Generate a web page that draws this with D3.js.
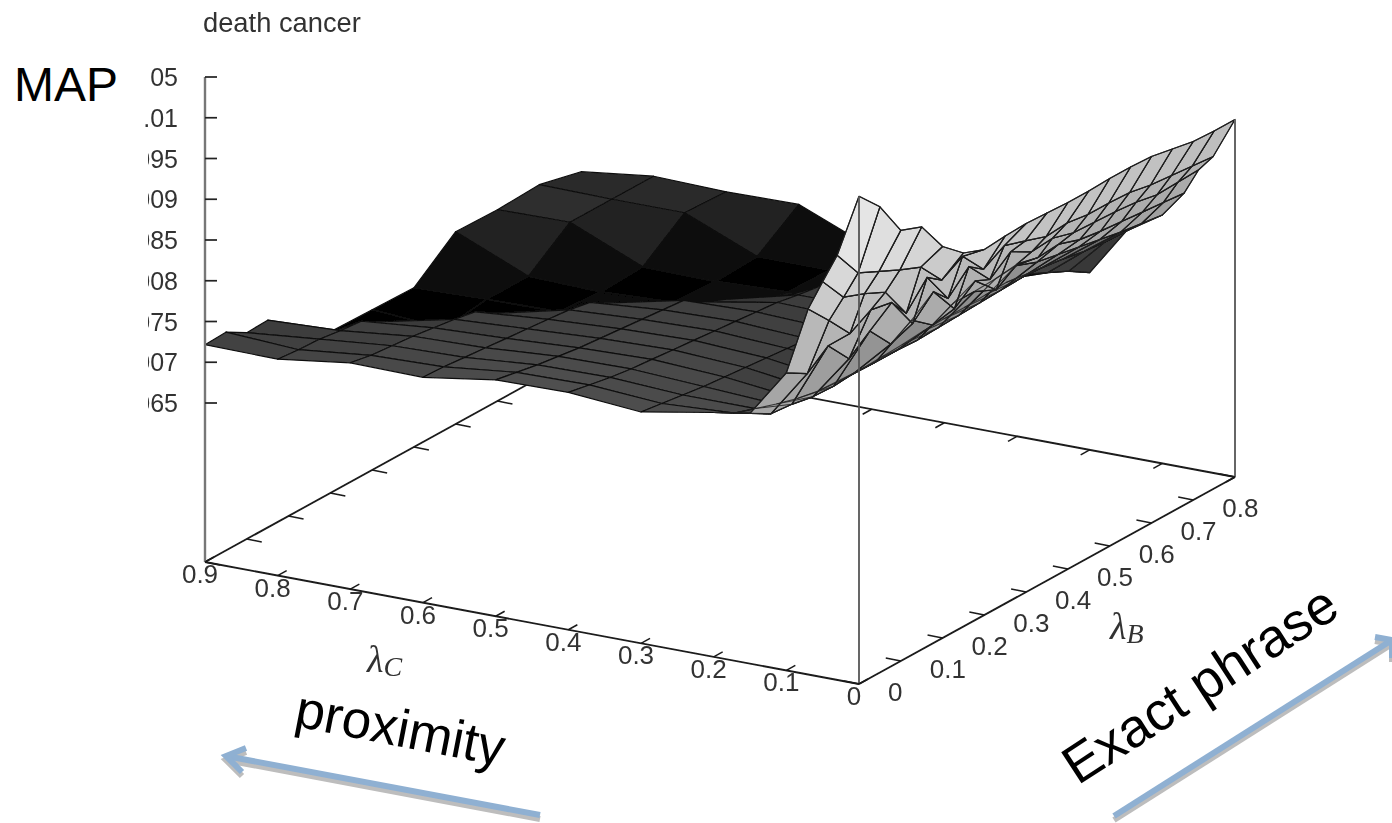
<!DOCTYPE html>
<html>
<head>
<meta charset="utf-8">
<script src="https://cdn.jsdelivr.net/npm/d3@7"></script>
<style>
html, body { margin: 0; padding: 0; background: #fff; }
svg { display: block; font-family: "Liberation Sans", Arial, sans-serif; }
</style>
</head>
<body>
<div id="chart"></div>
<script>
// MAP values are in thousandths
var lambdaC = [0.9, 0.8, 0.7, 0.6, 0.5, 0.4, 0.3, 0.2, 0.15, 0.1, 0.07, 0.05, 0.03, 0]
var lambdaB = [0, 0.05, 0.1, 0.15, 0.2, 0.25, 0.3, 0.35, 0.4, 0.45, 0.5, 0.55, 0.6, 0.65, 0.7, 0.75, 0.8, 0.85, 0.9]

var mapC90 = [7.216, 7.228, 7.081, 7.093, 6.614, 6.552, 6.528, null, 6.516, null, 6.503, null, 6.909, null, 6.896, null, 6.921, null, 6.798]
var mapC80 = [7.204, 7.179, 7.167, 7.130, 7.105, 6.958, 6.540, 6.491, 6.454, null, 6.528, null, 6.528, null, 6.909, null, 6.909, null, 6.909]
var mapC70 = [7.326, 7.277, 7.253, 7.228, 7.191, 7.154, 7.105, 6.946, 6.602, 6.540, 6.540, null, 6.503, null, 6.528, null, 6.909, null, 6.884]
var mapC60 = [7.314, 7.302, 7.277, 7.253, 7.228, 7.204, 7.179, 7.154, 7.105, 6.958, 6.614, 6.552, 6.540, null, 6.516, null, 6.540, null, 6.896]
var mapC50 = [7.449, 7.400, 7.351, 7.314, 7.277, 7.253, 7.228, 7.204, 7.179, 7.154, 6.995, 6.884, 6.638, 6.577, 6.552, null, 6.540, null, 6.528]
var mapC40 = [7.462, 7.412, 7.363, 7.326, 7.302, 7.277, 7.253, 7.228, 7.204, 7.179, 7.154, 7.105, 7.068, 6.909, 6.638, 6.602, 6.577, null, 6.528]
var mapC30 = [7.388, 7.351, 7.314, 7.277, 7.253, 7.228, 7.204, 7.179, 7.154, 7.142, 7.130, 7.105, 7.093, 7.068, 7.044, 6.946, 6.700, 6.663, 6.614]
var mapC20 = [7.548, 7.400, 7.314, 7.228, 7.154, 7.105, 7.081, 7.081, 7.093, 7.105, 7.130, 7.142, 7.142, 7.154, 7.167, 7.130, 7.007, 6.884, 6.724]
var mapC15 = [7.621, 7.474, 7.449, 7.400, 7.388, 7.412, 7.400, 7.400, 7.388, 7.400, 7.412, 7.425, 7.437, 7.449, 7.437, 7.400, 7.351, 7.326, 7.314]
var mapC10 = [8.200, 8.050, 8.250, 7.950, 8.150, 7.850, 8.000, 7.800, 7.928, 7.928, 7.941, 7.965, 7.867, 7.818, 7.769, 7.720, 7.670, 7.634, 7.597]
var mapC07 = [9.034, 8.752, 8.450, 8.600, 8.550, 8.150, 8.400, 8.050, 8.250, 8.000, 8.174, 8.113, 8.137, 8.051, 8.014, 7.990, 7.965, 7.941, 7.916]
var mapC05 = [9.403, 9.071, 8.973, 8.850, 8.450, 8.750, 8.350, 8.600, 8.300, 8.500, 8.358, 8.383, 8.309, 8.297, 8.285, 8.260, 8.211, 8.223, 8.236]
var mapC03 = [9.759, 9.403, 9.280, 9.157, 9.050, 8.750, 8.900, 8.600, 8.750, 8.666, 8.579, 8.604, 8.567, 8.567, 8.555, 8.506, 8.481, 8.457, 8.432]
var mapC00 = [10.533, 10.263, 9.833, 9.734, 9.353, 9.132, 9.034, 9.059, 9.071, 9.059, 9.046, 9.046, 9.059, 9.059, 9.046, 8.997, 8.948, 8.936, 8.936]
var mapGrid = [mapC90, mapC80, mapC70, mapC60, mapC50, mapC40, mapC30, mapC20, mapC15, mapC10, mapC07, mapC05, mapC03, mapC00]

var zTicks = [6.5, 7, 7.5, 8, 8.5, 9, 9.5, 10, 10.5]
var zLabels = ["0.0065", "0.007", "0.0075", "0.008", "0.0085", "0.009", "0.0095", "0.01", "05"]
var cTicks = [0.9, 0.8, 0.7, 0.6, 0.5, 0.4, 0.3, 0.2, 0.1, 0]
var cLabels = ["0.9", "0.8", "0.7", "0.6", "0.5", "0.4", "0.3", "0.2", "0.1", "0"]
var bTicks = [0, 0.1, 0.2, 0.3, 0.4, 0.5, 0.6, 0.7, 0.8, 0.9]
var bLabels = ["0", "0.1", "0.2", "0.3", "0.4", "0.5", "0.6", "0.7", "0.8", ""]

var width = 1392, height = 823
var originX = 859, originY = 684

// the plot is a parallel projection, so each axis is just a screen vector
var cX = d3.scaleLinear().domain([0, 0.9]).range([0, -654])
var cY = d3.scaleLinear().domain([0, 0.9]).range([0, -122])
var bX = d3.scaleLinear().domain([0, 0.9]).range([0, 376])
var bY = d3.scaleLinear().domain([0, 0.9]).range([0, -207])
var zY = d3.scaleLinear().domain([6.5, 10.5]).range([403, 77])
var zBase = 562

var shade = d3.scaleLinear()
    .domain([6.479, 6.884, 7.314, 7.46, 7.65, 7.806, 8.236, 8.850, 9.464, 10.533])
    .range([0, 43, 74, 80, 140, 165, 175, 195, 218, 240])
    .clamp(true)

function px(c, b) { return originX + cX(c) + bX(b) }
function py(c, b, z) {
    var floor = originY + cY(c) + bY(b)
    return z == null ? floor : floor - (zBase - zY(z))
}

var svg = d3.select("#chart").append("svg")
    .attr("width", width)
    .attr("height", height)

var defs = svg.append("defs")
defs.append("filter").attr("id", "soft")
    .attr("x", "-5%").attr("y", "-5%").attr("width", "110%").attr("height", "110%")
    .append("feGaussianBlur").attr("stdDeviation", 0.6)
defs.append("filter").attr("id", "softText")
    .attr("x", "-5%").attr("y", "-5%").attr("width", "110%").attr("height", "110%")
    .append("feGaussianBlur").attr("stdDeviation", 0.45)
var clip = defs.append("clipPath").attr("id", "zclip")
clip.append("rect").attr("x", 148).attr("y", 60).attr("width", 60).attr("height", 370)
clip.append("rect").attr("x", 145).attr("y", 105).attr("width", 10).attr("height", 25)

var plot = svg.append("g").attr("filter", "url(#soft)")

function seg(parent, x1, y1, x2, y2, color, w) {
    return parent.append("line")
        .attr("x1", x1).attr("y1", y1).attr("x2", x2).attr("y2", y2)
        .attr("stroke", color).attr("stroke-width", w)
}

// floor frame and mirrored ticks go under the surface
seg(plot, px(0.9, 0), py(0.9, 0), px(0.9, 0.9), py(0.9, 0.9), "#1a1a1a", 1.8)
seg(plot, px(0, 0.9), py(0, 0.9), px(0.9, 0.9), py(0.9, 0.9), "#1a1a1a", 1.8)

bTicks.forEach(function(b) {
    seg(plot, px(0.9, b), py(0.9, b), px(0.9, b) + 15, py(0.9, b) + 3, "#1a1a1a", 1.5)
})
cTicks.forEach(function(c) {
    seg(plot, px(c, 0.9), py(c, 0.9), px(c, 0.9) - 9, py(c, 0.9) + 5, "#1a1a1a", 1.5)
})

// quads back to front; beyond the diagonal the half steps of lambdaB are not sampled
var quads = []
for (var i = 0; i < lambdaC.length - 1; i++) {
    var lim = 2 * Math.round((0.9 - lambdaC[i]) * 10) + 6
    var cells = []
    var k = 0
    while (k < lambdaB.length - 1) {
        var step = k >= lim ? 2 : 1
        cells.push([k, k + step])
        k += step
    }
    cells.reverse().forEach(function(cell) {
        var a = cell[0], b = cell[1]
        var corners = [[i, a], [i + 1, a], [i + 1, b], [i, b]].map(function(n) {
            var c = lambdaC[n[0]], bb = lambdaB[n[1]], z = mapGrid[n[0]][n[1]]
            return { x: px(c, bb), y: py(c, bb, z), z: z }
        })
        quads.push(corners)
    })
}

var quadLine = d3.line().x(function(d) { return d.x }).y(function(d) { return d.y }).curve(d3.curveLinearClosed)

plot.append("g").selectAll("path").data(quads)
    .enter().append("path")
    .attr("d", quadLine)
    .attr("fill", function(d) {
        var g = Math.round(shade(d3.mean(d, function(p) { return p.z })))
        return d3.rgb(g, g, g)
    })
    .attr("stroke", "#111")
    .attr("stroke-width", 1.2)
    .attr("stroke-linejoin", "round")

// the steep part near lambdaC = 0 shows its lines straight through the sheet
var wire = []
var front = d3.range(7, lambdaC.length)
front.forEach(function(i) {
    wire.push(lambdaB.map(function(b, k) { return [px(lambdaC[i], b), py(lambdaC[i], b, mapGrid[i][k])] }))
})
lambdaB.forEach(function(b, k) {
    wire.push(front.map(function(i) { return [px(lambdaC[i], b), py(lambdaC[i], b, mapGrid[i][k])] }))
})
plot.append("g").selectAll("path").data(wire)
    .enter().append("path")
    .attr("d", d3.line())
    .attr("fill", "none")
    .attr("stroke", "#222")
    .attr("stroke-opacity", 0.85)
    .attr("stroke-width", 1.1)

// verticals and front axes sit on top
seg(plot, 205, zY(10.5), 205, zBase, "#777", 2.4)
seg(plot, originX, py(0, 0, mapC00[0]), originX, originY, "#555", 1.8)
seg(plot, px(0, 0.9), py(0, 0.9, mapC00[18]), px(0, 0.9), py(0, 0.9), "#666", 2)
seg(plot, px(0.9, 0), py(0.9, 0), originX, originY, "#1a1a1a", 1.8)
seg(plot, originX, originY, px(0, 0.9), py(0, 0.9), "#1a1a1a", 1.8)

zTicks.forEach(function(z) {
    seg(plot, 205, zY(z), 217, zY(z), "#222", 1.7)
})
cTicks.forEach(function(c) {
    seg(plot, px(c, 0), py(c, 0), px(c, 0) + 9, py(c, 0) - 5, "#1a1a1a", 1.5)
})
bTicks.forEach(function(b) {
    seg(plot, px(0, b), py(0, b), px(0, b) - 15, py(0, b) - 3, "#1a1a1a", 1.5)
})

// tick labels
svg.append("g").attr("clip-path", "url(#zclip)")
    .selectAll("text").data(zTicks)
    .enter().append("text")
    .attr("x", 178)
    .attr("y", function(d) { return zY(d) + 9 })
    .attr("text-anchor", "end")
    .attr("font-size", 25)
    .attr("fill", "#333")
    .attr("filter", "url(#softText)")
    .text(function(d, i) { return zLabels[i] })

svg.append("g").attr("filter", "url(#softText)")
    .selectAll("text").data(cTicks)
    .enter().append("text")
    .attr("x", function(d) { return px(d, 0) - 5 })
    .attr("y", function(d) { return py(d, 0) + 21 })
    .attr("text-anchor", "middle")
    .attr("font-size", 26)
    .attr("fill", "#333")
    .text(function(d, i) { return cLabels[i] })

svg.append("g").attr("filter", "url(#softText)")
    .selectAll("text").data(bTicks)
    .enter().append("text")
    .attr("x", function(d) { return px(0, d) + 29 })
    .attr("y", function(d) { return py(0, d) + 17 })
    .attr("font-size", 26)
    .attr("fill", "#333")
    .text(function(d, i) { return bLabels[i] })

svg.append("text").attr("x", 203).attr("y", 32)
    .attr("font-size", 27.3).attr("fill", "#333")
    .attr("filter", "url(#softText)").text("death cancer")

svg.append("text").attr("x", 14).attr("y", 101)
    .attr("font-size", 48).attr("fill", "#000").text("MAP")

function subLabel(x, y, sub) {
    var t = svg.append("text").attr("x", x).attr("y", y)
        .attr("font-family", "'Liberation Serif', serif")
        .attr("font-style", "italic")
        .attr("fill", "#333")
        .attr("filter", "url(#softText)")
    t.append("tspan").attr("font-size", 38).text("λ")
    t.append("tspan").attr("font-size", 28).attr("dy", 4).text(sub)
}
subLabel(367, 672, "C")
subLabel(1110, 639, "B")

svg.append("text").attr("text-anchor", "middle")
    .attr("transform", "translate(397,746) rotate(11)")
    .attr("font-size", 53).attr("fill", "#000").text("proximity")

svg.append("text").attr("text-anchor", "middle")
    .attr("transform", "translate(1210,700) rotate(-33)")
    .attr("font-size", 54).attr("fill", "#000").text("Exact phrase")

// hand drawn arrows from the slide
function arrow(x1, y1, x2, y2, bx1, by1, bx2, by2, color, dy) {
    var g = svg.append("g").attr("transform", "translate(0," + dy + ")")
        .attr("stroke", color).attr("stroke-width", 6).attr("fill", "none")
    g.append("path").attr("d", d3.line()([[x1, y1], [x2, y2]]))
    g.append("path").attr("d", d3.line()([[bx1, by1], [x2, y2], [bx2, by2]]))
}
arrow(540, 815, 226, 756, 246, 748, 242, 772, "#bdbdbd", 4)
arrow(540, 815, 226, 756, 246, 748, 242, 772, "#8fb0d2", 0)
arrow(1114, 816, 1392, 640, 1375, 637, 1392, 658, "#bdbdbd", 4)
arrow(1114, 816, 1392, 640, 1375, 637, 1392, 658, "#8fb0d2", 0)
</script>
</body>
</html>
